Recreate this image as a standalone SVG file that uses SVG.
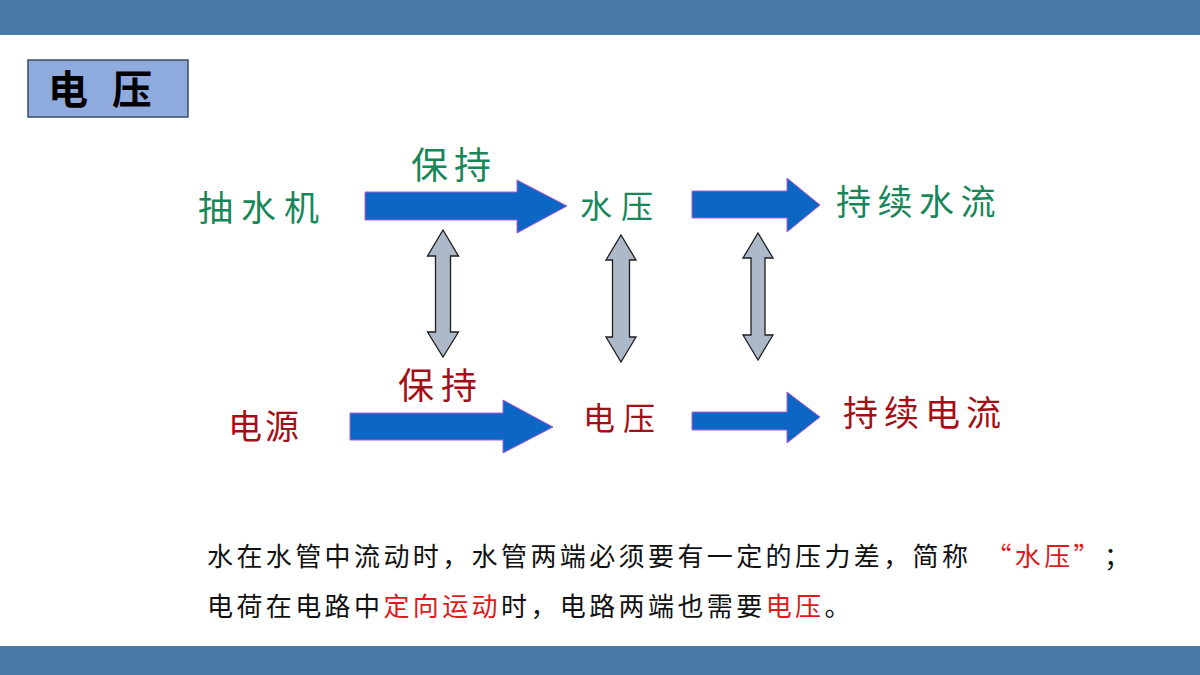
<svg xmlns="http://www.w3.org/2000/svg" width="1200" height="675" viewBox="0 0 1200 675">
<defs>
<style>
.cjk{font-family:"Noto Sans CJK SC","Noto Sans",sans-serif;}
.g{fill:#17875A;}
.r{fill:#A30F16;}
.blue{fill:#0C66C3;stroke:#B45AD8;stroke-width:1;}
.gray{fill:#ADB8C9;stroke:#1E1E1E;stroke-width:1.3;stroke-linejoin:miter;}
.body{font-size:26px;fill:#111;letter-spacing:3.4px;}
.hl{fill:#E01A1A;}
</style>
</defs>
<rect width="1200" height="675" fill="#FFFFFF"/>
<rect x="0" y="0" width="1200" height="35" fill="#477AA7"/>
<rect x="0" y="646" width="1200" height="29" fill="#477AA7"/>

<g id="title">
<rect x="28" y="60" width="160" height="57" fill="#8FAADD" stroke="#3C4C63" stroke-width="1.5"/>
<text class="cjk" x="48" y="104" font-size="40" font-weight="bold" fill="#000">电</text>
<text class="cjk" x="112" y="104" font-size="40" font-weight="bold" fill="#000">压</text>
</g>

<g id="pump"><text class="cjk g" x="198" y="221" font-size="35" letter-spacing="8">抽水机</text></g>
<g id="keep-top"><text class="cjk g" x="411" y="179" font-size="37" letter-spacing="6">保持</text></g>
<g id="water-pressure"><text class="cjk g" x="580" y="218" font-size="32" letter-spacing="9">水压</text></g>
<g id="water-flow"><text class="cjk g" x="836" y="215" font-size="35" letter-spacing="6.5">持续水流</text></g>

<g id="source"><text class="cjk r" x="228" y="439" font-size="34" letter-spacing="3">电源</text></g>
<g id="keep-bottom"><text class="cjk r" x="398" y="399" font-size="36" letter-spacing="7">保持</text></g>
<g id="voltage"><text class="cjk r" x="583" y="430" font-size="32" letter-spacing="8">电压</text></g>
<g id="current"><text class="cjk r" x="843" y="426" font-size="35" letter-spacing="6">持续电流</text></g>

<g id="connectors">
<polygon class="blue" points="365,192 517,192 517,180 567,206 517,233 517,220 365,220"/>
<polygon class="blue" points="692,191 787,191 787,178 820,205 787,232 787,218 692,218"/>
<polygon class="blue" points="350,413 503,413 503,400 553,427 503,453 503,440 350,440"/>
<polygon class="blue" points="692,412 787,412 787,392 820,417 787,443 787,430 692,430"/>
<polygon class="gray" points="443,230 458.5,256 450.5,256 450.5,332 458.5,332 443,357 427.5,332 435.5,332 435.5,256 427.5,256"/>
<polygon class="gray" points="621,235 636,260 629.5,260 629.5,337 636,337 621,362 606,337 612.5,337 612.5,260 606,260"/>
<polygon class="gray" points="758,233 773,258 765,258 765,335 773,335 758,360 743,335 751,335 751,258 743,258"/>
</g>

<g id="description">
<text class="cjk body" xml:lang="zh-CN" x="207" y="566">水在水管中流动时，水管两端必须要有一定的压力差，简称<tspan class="hl" dx="14">“水压”</tspan><tspan dx="14">；</tspan></text>
<text class="cjk body" xml:lang="zh-CN" x="207" y="616">电荷在电路中<tspan class="hl">定向运动</tspan>时，电路两端也需要<tspan class="hl">电压</tspan>。</text>
</g>
</svg>
